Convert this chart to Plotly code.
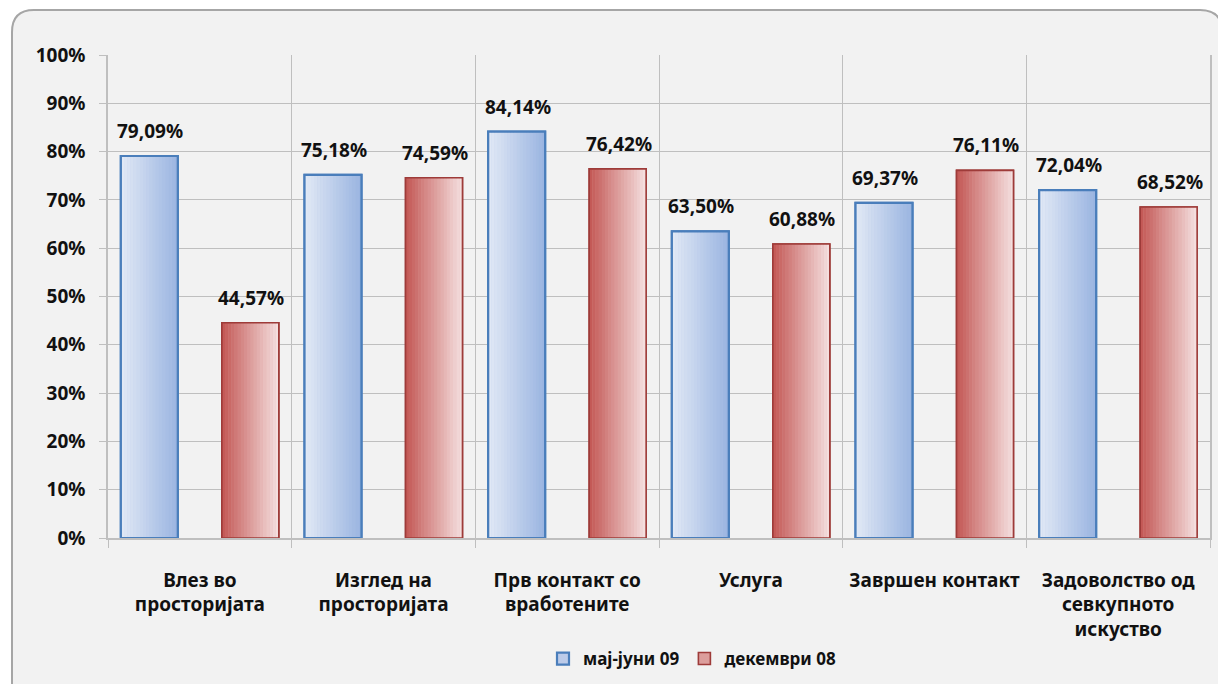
import plotly.graph_objects as go

categories = ["Влез во<br>просторијата", "Изглед на<br>просторијата", "Прв контакт со<br>вработените",
              "Услуга", "Завршен контакт", "Задоволство од<br>севкупното<br>искуство"]
series_names = ["мај-јуни 09", "декември 08"]
may_jun_09 = [79.09, 75.18, 84.14, 63.50, 69.37, 72.04]
dec_08 = [44.57, 74.59, 76.42, 60.88, 76.11, 68.52]
y_ticks = [0, 10, 20, 30, 40, 50, 60, 70, 80, 90, 100]

# page body has an 8px margin; work in figure pixels = page pixels - 8
OFF = 8
W, H = 1226 - OFF, 684 - OFF
ML, MR, MT, MB = 108 - OFF, 16, 55 - OFF, 146
PW, PH = W - ML - MR, H - MT - MB

BAR_W = 0.31
OFFSETS = [-0.43, 0.12]
N_STRIPS = 18
grad = [((224, 232, 245), (155, 181, 225)), ((196, 90, 87), (244, 222, 222))]
mid_fill = ["#bccbe9", "#dc9e9c"]
border = ["#4a7ebb", "#9e3b39"]
border_w = [2.2, 1.6]

fig = go.Figure()

for s, vals in enumerate([may_jun_09, dec_08]):
    fig.add_trace(go.Bar(x=categories, y=vals, name=series_names[s], width=BAR_W, offset=OFFSETS[s],
                         marker=dict(color=mid_fill[s], line=dict(color=border[s], width=border_w[s])),
                         showlegend=True, hoverinfo="skip"))
    c0, c1 = grad[s]
    sw = BAR_W / N_STRIPS
    for k in range(N_STRIPS):
        t = k / (N_STRIPS - 1)
        col = "rgb(%d,%d,%d)" % tuple(round(c0[j] + (c1[j] - c0[j]) * t) for j in range(3))
        fig.add_trace(go.Bar(x=categories, y=vals, width=sw * 1.08, offset=OFFSETS[s] + k * sw,
                             marker=dict(color=col, line=dict(width=0)),
                             showlegend=False, hoverinfo="skip"))
    fig.add_trace(go.Bar(x=categories, y=vals, width=BAR_W, offset=OFFSETS[s],
                         marker=dict(color="rgba(0,0,0,0)", line=dict(color=border[s], width=border_w[s])),
                         showlegend=False, hoverinfo="skip"))

annotations = []
for s, vals in enumerate([may_jun_09, dec_08]):
    shift = (OFFSETS[s] + BAR_W / 2) * PW / len(categories)
    for i, v in enumerate(vals):
        annotations.append(dict(x=categories[i], y=v, xref="x", yref="y", xshift=shift + 1, yshift=25,
                                yanchor="middle", showarrow=False,
                                text=f"{v:.2f}".replace(".", ",") + "%",
                                font=dict(family="Noto Sans", size=19, color="#111", weight="bold")))


def P(a, b):
    xx, yy = (a - OFF - ML) / PW, (H - MB - (b - OFF)) / PH
    return f"{xx:.5f},{yy:.5f}"


L, R, T, B, r = 12, 1222, 10, 720, 22
path = (f"M {P(L, B)} L {P(L, T + r)} Q {P(L, T)} {P(L + r, T)} L {P(R - r, T)} "
        f"Q {P(R, T)} {P(R, T + r)} L {P(R, B)} Z")

fig.update_layout(
    width=W, height=H,
    margin=dict(l=ML, r=MR, t=MT, b=MB, autoexpand=False),
    barmode="overlay",
    paper_bgcolor="white",
    plot_bgcolor="white",
    font=dict(family="Noto Sans", color="#111"),
    shapes=[dict(type="path", path=path, xref="paper", yref="paper",
                 fillcolor="#f2f2f2", line=dict(color="#a6a6a6", width=2), layer="below")],
    annotations=annotations,
    legend=dict(orientation="h", x=(692 - 108) / PW, xanchor="center",
                yref="container", y=1 - (659 - OFF) / H, yanchor="middle",
                font=dict(size=17, family="Noto Sans", color="#111", weight="bold"), bgcolor="rgba(0,0,0,0)",
                traceorder="normal", itemwidth=30),
    xaxis=dict(type="category", range=[-0.5, len(categories) - 0.5], automargin=False,
               tickson="boundaries", showgrid=True, gridcolor="#bfbfbf", gridwidth=1,
               ticks="outside", ticklen=8, tickcolor="#bfbfbf", showline=True, linecolor="#bfbfbf",
               linewidth=1.5, zeroline=False, ticklabelstandoff=24,
               tickfont=dict(size=19, family="Noto Sans", color="#111", weight="bold")),
    yaxis=dict(range=[0, 100], tickvals=y_ticks, ticktext=[f"{t}%" for t in y_ticks], automargin=False,
               showgrid=True, gridcolor="#bfbfbf", gridwidth=1, showline=True, mirror=True, linecolor="#bfbfbf",
               linewidth=1.5, ticks="outside", ticklen=7, tickcolor="#bfbfbf", zeroline=False,
               ticklabelstandoff=10,
               tickfont=dict(size=19, family="Noto Sans", color="#111", weight="bold")),
)

fig.write_html("out.html")
